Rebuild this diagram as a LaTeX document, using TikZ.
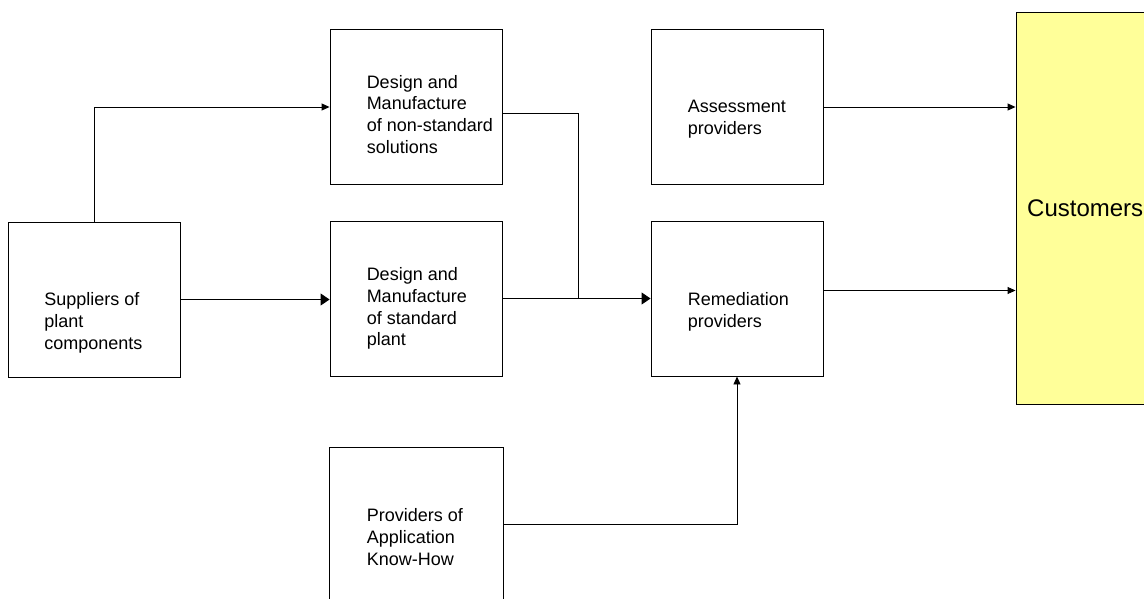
\documentclass[tikz,border=0pt]{standalone}
\usepackage{fontspec}
\setmainfont{Liberation Sans}
\usetikzlibrary{arrows.meta}
\definecolor{custyellow}{RGB}{255,255,153}

\tikzset{
  blk/.style={draw, line width=0.9pt, minimum width=172pt, minimum height=155pt, inner sep=0pt},
  txt/.style={align=left, inner sep=0pt, anchor=north west, font=\fontsize{18}{21.6}\selectfont},
  lnk/.style={line width=0.9pt, -{Triangle[length=8pt,width=7pt]}},
  biglnk/.style={line width=0.9pt, -{Triangle[length=9pt,width=12pt]}}
}

\begin{document}
\begin{tikzpicture}[x=1pt,y=-1pt]
\path[use as bounding box, clip] (0,0) rectangle (1144,598);
\fill[white] (0,0) rectangle (1144,598);

% boxes
\node[blk] (sup) at (94.5,299.5) {};
\node[blk] (nonstd) at (416,107) {};
\node[blk] (std) at (416,298.5) {};
\node[blk] (assess) at (737,107) {};
\node[blk] (remed) at (737,298.5) {};
\node[blk, minimum width=174pt] (prov) at (416,524.5) {};
\node[blk, fill=custyellow, minimum width=173pt, minimum height=392pt] (cust) at (1102.5,208) {};

% texts
\node[txt] (supt) at ([shift={(36pt,-71pt)}]sup.north west) {Suppliers of\\plant\\components};
\node[txt] (nonstdt) at ([shift={(37pt,-46pt)}]nonstd.north west) {Design and\\Manufacture\\of non-standard\\solutions};
\node[txt] (stdt) at ([shift={(37pt,-47pt)}]std.north west) {Design and\\Manufacture\\of standard\\plant};
\node[txt] (assesst) at ([shift={(37pt,-71pt)}]assess.north west) {Assessment\\providers};
\node[txt] (remedt) at ([shift={(37pt,-72pt)}]remed.north west) {Remediation\\providers};
\node[txt] (provt) at ([shift={(38pt,-62pt)}]prov.north west) {Providers of\\Application\\Know-How};
\node[inner sep=0pt, anchor=base west, font=\fontsize{24}{28}\selectfont] (custt) at (1027,216.7) {Customers};

% connectors
\coordinate (bend) at (578,299);
\draw[lnk] (sup.north) |- (nonstd.west);
\draw[biglnk] (sup.east) -- (sup.east -| std.west);
\draw[line width=0.9pt] ([yshift=-6pt]nonstd.east) -| (bend);
\draw[biglnk] (std.east) -- (std.east -| remed.west);
\draw[lnk] (assess.east) -- (assess.east -| cust.west);
\draw[lnk] ([yshift=8pt]remed.east) -- ([yshift=8pt]remed.east -| cust.west);
\draw[lnk] (prov.east) -| (remed.south);
\end{tikzpicture}
\end{document}
